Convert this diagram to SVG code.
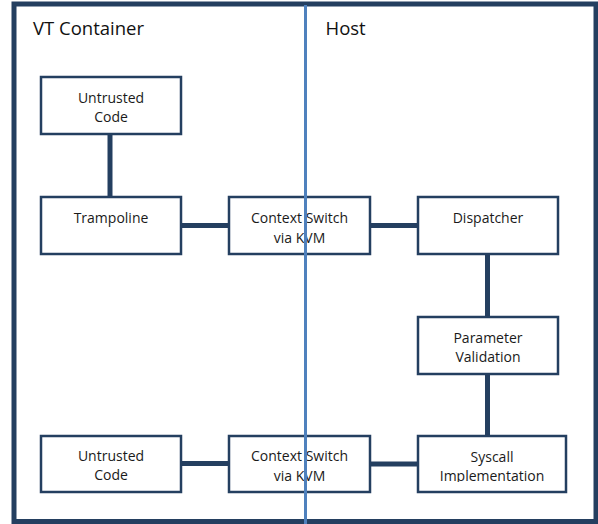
<svg xmlns="http://www.w3.org/2000/svg" width="598" height="524" viewBox="0 0 598 524">
<style>
.box{fill:#fff;stroke:#243f60;stroke-width:2.5}
.lbl{font-family:"Open Sans","Liberation Sans",sans-serif;font-size:14px;fill:#1a1a1a;text-anchor:middle}
.title{font-family:"Open Sans","Liberation Sans",sans-serif;font-size:18.5px;fill:#111}
.conn{stroke:#243f60;stroke-width:5;fill:none}
</style>
<defs>
<clipPath id="clipImpl"><rect x="418" y="436" width="148" height="46"/></clipPath>
</defs>
<rect x="0" y="0" width="598" height="524" fill="#fff"/>
<rect id="frame" x="14" y="4" width="582" height="517.5" fill="none" stroke="#243f60" stroke-width="5"/>
<text class="title" x="33" y="35">VT Container</text>
<text class="title" x="325.5" y="35">Host</text>
<g id="connectors">
<line class="conn" x1="110" y1="134" x2="110" y2="197"/>
<line class="conn" x1="181" y1="225.5" x2="229" y2="225.5"/>
<line class="conn" x1="370" y1="225.5" x2="418" y2="225.5"/>
<line class="conn" x1="487.5" y1="254" x2="487.5" y2="317"/>
<line class="conn" x1="487.5" y1="374" x2="487.5" y2="436"/>
<line class="conn" x1="181" y1="463.5" x2="229" y2="463.5"/>
<line class="conn" x1="370" y1="464" x2="418" y2="464"/>
</g>
<g id="untrusted1">
<rect class="box" x="41" y="77" width="140" height="57"/>
<text class="lbl" x="111" y="102.7">Untrusted</text>
<text class="lbl" x="111" y="121.7">Code</text>
</g>
<g id="trampoline">
<rect class="box" x="41" y="197" width="140" height="57"/>
<text class="lbl" x="111" y="223.3">Trampoline</text>
</g>
<g id="ctx1">
<rect class="box" x="229" y="197" width="141" height="57"/>
<text class="lbl" x="299.5" y="223.3">Context Switch</text>
<text class="lbl" x="299.5" y="243.3">via KVM</text>
</g>
<g id="dispatcher">
<rect class="box" x="418" y="197" width="140" height="57"/>
<text class="lbl" x="488" y="223.3">Dispatcher</text>
</g>
<g id="paramval">
<rect class="box" x="418" y="317" width="140" height="57"/>
<text class="lbl" x="488" y="342.7">Parameter</text>
<text class="lbl" x="488" y="361.7">Validation</text>
</g>
<g id="untrusted2">
<rect class="box" x="41" y="436" width="140" height="56"/>
<text class="lbl" x="111" y="460.7">Untrusted</text>
<text class="lbl" x="111" y="480">Code</text>
</g>
<g id="ctx2">
<rect class="box" x="229" y="436" width="141" height="56"/>
<text class="lbl" x="299.5" y="460.7">Context Switch</text>
<text class="lbl" x="299.5" y="480.7">via KVM</text>
</g>
<g id="syscall">
<rect class="box" x="418" y="436" width="148" height="56"/>
<text class="lbl" x="492" y="461.7">Syscall</text>
<text class="lbl" x="492" y="480.5" clip-path="url(#clipImpl)">Implementation</text>
</g>
<line id="divider" x1="305.5" y1="5" x2="305.5" y2="524" stroke="#4f81bd" stroke-width="3"/>
</svg>
